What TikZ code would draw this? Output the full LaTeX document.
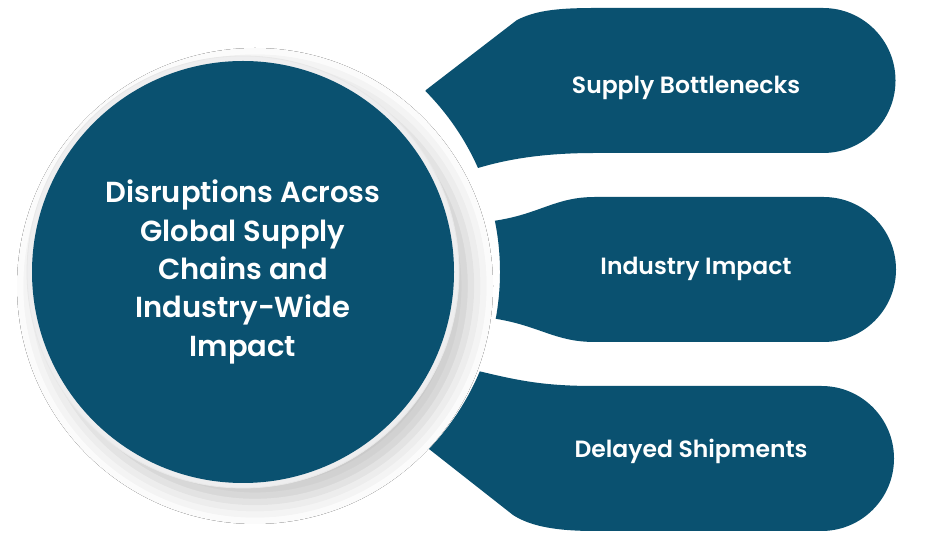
\documentclass[tikz,border=0pt]{standalone}
\usepackage{fontspec}
\newfontfamily\popm{Poppins SemiBold}
\usetikzlibrary{shadows.blur}
\definecolor{navy}{HTML}{0A5170}
\definecolor{ringgray}{HTML}{EEEEEF}
\tikzset{
  petal/.style={fill=navy},
  bigtxt/.style={text=white, align=center, font=\popm\fontsize{29}{38.3}\selectfont},
  smalltxt/.style={text=white, font=\popm\fontsize{23.5}{26}\selectfont}
}
\begin{document}
\begin{tikzpicture}[x=1pt,y=1pt]
\useasboundingbox (0,0) rectangle (928,556);
\fill[white] (0,0) rectangle (928,556);
\coordinate (C) at (243,284);
% top petal
\path[petal] (426,466) -- (517,536) .. controls (535,545) and (555,548) .. (595,548)
  -- (823,548) arc[start angle=90, end angle=-90, radius=72.5] -- (595,403)
  .. controls (540,403) and (505,396) .. (478,388)
  arc[start angle=23.9, end angle=44.8, radius=257] -- cycle;
% middle petal
\path[petal] (495.7,237.2) arc[start angle=-10.5, end angle=11.5, radius=257]
  .. controls (540,342) and (555,359) .. (595,359)
  -- (823.5,359) arc[start angle=90, end angle=-90, radius=72.5] -- (595,214)
  .. controls (555,214) and (540,230) .. (495.7,237.2) -- cycle;
% bottom petal
\path[petal] (429,107) arc[start angle=-43.6, end angle=-22.8, radius=257]
  .. controls (520,175) and (545,170) .. (595,170)
  -- (821.5,170) arc[start angle=90, end angle=-90, radius=72.5] -- (595,25)
  .. controls (555,25) and (530,30) .. (513,41) -- cycle;
% circle
\fill[ringgray, draw=gray!18, line width=0.8pt, blur shadow={shadow xshift=12pt, shadow yshift=-14pt, shadow blur radius=22pt, shadow opacity=22}] (C) circle[radius=216];
\fill[navy] (C) circle[radius=211];
\node[bigtxt] (hub) at (C) {Disruptions Across\\Global Supply\\Chains and\\Industry-Wide\\Impact};
\node[smalltxt] (t1) at (686,468) {Supply Bottlenecks};
\node[smalltxt] (t2) at (696,287) {Industry Impact};
\node[smalltxt] (t3) at (691,105) {Delayed Shipments};
\end{tikzpicture}
\end{document}
